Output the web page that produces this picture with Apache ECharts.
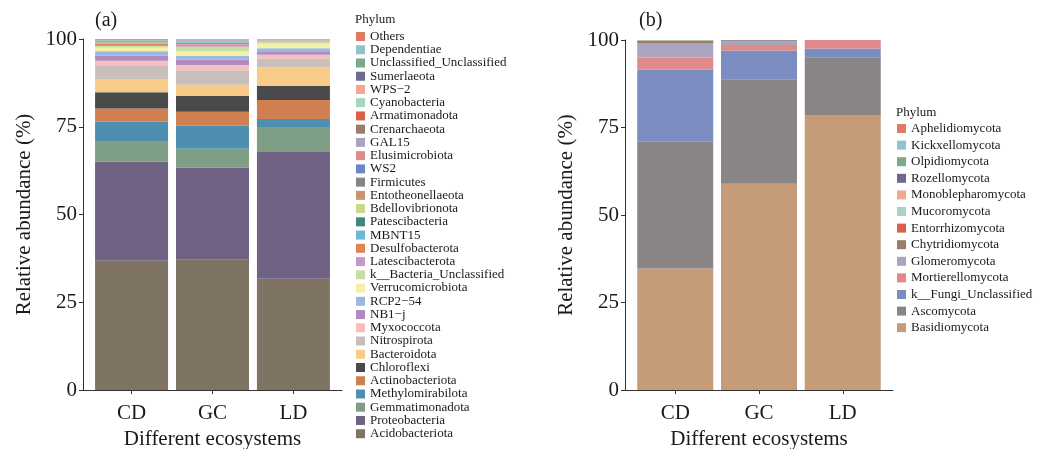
<!DOCTYPE html>
<html>
<head>
<meta charset="utf-8">
<script src="https://cdn.jsdelivr.net/npm/echarts@6/dist/echarts.min.js"></script>
<style>
  html, body { margin: 0; padding: 0; background: #fff; }
  #main { width: 1040px; height: 449px; }
</style>
</head>
<body>
<div id="main"></div>
<script>
// 横坐标 (位置 1,2,3)
var sites = ["CD", "GC", "LD"];
var sitePos = [1, 2, 3];
var yTicks = [0, 25, 50, 75, 100];

// (a) 细菌门 (堆叠从下到上)
var bacNames = [
  "Acidobacteriota", "Proteobacteria", "Gemmatimonadota", "Methylomirabilota",
  "Actinobacteriota", "Chloroflexi", "Bacteroidota", "Nitrospirota",
  "Myxococcota", "NB1\u2212j", "RCP2\u221254", "Verrucomicrobiota",
  "k__Bacteria_Unclassified", "Latescibacterota", "Desulfobacterota", "MBNT15",
  "Patescibacteria", "Bdellovibrionota", "Entotheonellaeota", "Firmicutes",
  "WS2", "Elusimicrobiota", "GAL15", "Crenarchaeota", "Armatimonadota",
  "Cyanobacteria", "WPS\u22122", "Sumerlaeota", "Unclassified_Unclassified",
  "Dependentiae", "Others"
];
var bacColors = [
  "#7f7364", "#6f6283", "#7e9e85", "#4e8fb0",
  "#d08050", "#4a4a4a", "#f9cb88", "#c9bfba",
  "#f8bdbd", "#b08ac0", "#9db8e0", "#f5f0a8",
  "#c5dda5", "#c49ac4", "#e08650", "#6db8d4",
  "#3e8a7a", "#c7d98a", "#c8966e", "#8a8585",
  "#6e86c4", "#e0898a", "#a9a5be", "#9a7c6a", "#d9604a",
  "#a9d5be", "#f0a98f", "#6e6a8f", "#7aaa8a",
  "#8ec4cc", "#e07b63"
];
// 每个门在 CD, GC, LD 的相对丰度 (%)
var bacCD = [36.8, 28.2, 5.7, 5.7, 3.8, 4.6, 3.8, 3.9, 1.3, 1.5, 1.2, 1.1,
  0.4, 0.3, 0.3, 0.1, 0.1, 0.1, 0.1, 0.1, 0.05, 0.1, 0.05, 0.1, 0.05,
  0.05, 0.05, 0.05, 0.15, 0.05, 0.2];
var bacGC = [37.1, 26.3, 5.3, 6.6, 4.0, 4.5, 3.2, 4.1, 1.5, 1.5, 1.1, 1.3,
  1.3, 0.6, 0.5, 0.4, 0.05, 0.1, 0.05, 0.1, 0.02, 0.03, 0.05, 0.1, 0.02,
  0.02, 0.02, 0.02, 0.05, 0.02, 0.05];
var bacLD = [31.7, 36.1, 7.1, 2.3, 5.4, 4.1, 5.2, 2.5, 1.1, 0.8, 1.1, 1.3,
  0.6, 0.05, 0.1, 0.05, 0.02, 0.05, 0.03, 0.05, 0.02, 0.02, 0.03, 0.08, 0.02,
  0.02, 0.02, 0.02, 0.05, 0.02, 0.05];

// (b) 真菌门 (堆叠从下到上)
var funNames = [
  "Basidiomycota", "Ascomycota", "k__Fungi_Unclassified", "Mortierellomycota",
  "Glomeromycota", "Chytridiomycota", "Entorrhizomycota", "Mucoromycota",
  "Monoblepharomycota", "Rozellomycota", "Olpidiomycota", "Kickxellomycota",
  "Aphelidiomycota"
];
var funColors = [
  "#c69c78", "#8a8585", "#7a8cc0", "#e0898a",
  "#a9a5be", "#9a7c6a", "#d9604a", "#a9d5be",
  "#f0a98f", "#6e6a8f", "#7aaa8a", "#8ec4cc",
  "#e07b63"
];
var funCD = [34.7, 36.4, 20.5, 3.4, 4.0, 0.8, 0.05, 0.05, 0.03, 0.03, 0.02, 0.01, 0.01];
var funGC = [58.9, 29.9, 8.2, 1.6, 1.0, 0.3, 0.02, 0.02, 0.02, 0.01, 0.01, 0.01, 0.01];
var funLD = [78.6, 16.5, 2.5, 2.4, 0, 0, 0, 0, 0, 0, 0, 0, 0];

var serif = "Liberation Serif";
var txt = "#1a1a1a";

// x 轴用数值轴, 和 ggplot 一样两端留 0.6 的空白
function xAx(idx) {
  return {
    type: "value", gridIndex: idx, min: 0.4, max: 3.6,
    splitLine: { show: false },
    axisLine: { show: true, lineStyle: { color: "#333", width: 1 } },
    axisTick: { show: true, customValues: sitePos, length: 4, lineStyle: { color: "#333" } },
    axisLabel: {
      customValues: sitePos, fontFamily: serif, fontSize: 21, color: txt, margin: 13,
      formatter: function (v) { return sites[Math.round(v) - 1]; }
    },
    name: "Different ecosystems", nameLocation: "middle", nameGap: 38,
    nameTextStyle: { fontFamily: serif, fontSize: 21, color: txt }
  };
}
function yAx(idx) {
  return {
    type: "value", gridIndex: idx, min: 0, max: 100, interval: 25,
    axisLine: { show: true, lineStyle: { color: "#333", width: 1 } },
    axisTick: { show: true, length: 4, lineStyle: { color: "#333" } },
    splitLine: { show: false },
    axisLabel: {
      fontFamily: serif, fontSize: 21, color: txt, margin: 6,
      formatter: function (v) { return yTicks.indexOf(v) >= 0 ? String(v) : ""; }
    },
    name: "Relative abundance (%)", nameLocation: "middle", nameGap: 48,
    nameTextStyle: { fontFamily: serif, fontSize: 21, color: txt }
  };
}

// 数据列: [丰度, 位置], 让堆叠落在 y 上
function pairs(a, b, c) {
  return [[a, sitePos[0]], [b, sitePos[1]], [c, sitePos[2]]];
}

var series = [];
bacNames.forEach(function (n, i) {
  series.push({
    name: n, type: "bar", stack: "bac", xAxisIndex: 0, yAxisIndex: 0,
    encode: { x: 1, y: 0 },
    barWidth: 73, itemStyle: { color: bacColors[i] },
    data: pairs(bacCD[i], bacGC[i], bacLD[i])
  });
});
funNames.forEach(function (n, i) {
  series.push({
    name: n, type: "bar", stack: "fun", xAxisIndex: 1, yAxisIndex: 1,
    encode: { x: 1, y: 0 },
    barWidth: 76, itemStyle: { color: funColors[i] },
    data: pairs(funCD[i], funGC[i], funLD[i])
  });
});

var legendText = { fontFamily: serif, fontSize: 13, color: txt, lineHeight: 13 };

var myChart = echarts.init(document.getElementById("main"));
myChart.setOption({
  animation: false,
  title: [
    { text: "(a)", left: 90, top: 6, textStyle: { fontFamily: serif, fontSize: 20, fontWeight: "normal", color: txt } },
    { text: "(b)", left: 634, top: 6, textStyle: { fontFamily: serif, fontSize: 20, fontWeight: "normal", color: txt } },
    { text: "Phylum", left: 350, top: 8, textStyle: { fontFamily: serif, fontSize: 13, fontWeight: "normal", color: txt } },
    { text: "Phylum", left: 891, top: 101, textStyle: { fontFamily: serif, fontSize: 13, fontWeight: "normal", color: txt } }
  ],
  grid: [
    { left: 83, top: 39, width: 259, height: 351, outerBoundsMode: "none" },
    { left: 625, top: 40, width: 268, height: 350, outerBoundsMode: "none" }
  ],
  legend: [
    {
      orient: "vertical", left: 356, top: 30, padding: 0,
      icon: "rect", itemWidth: 9, itemHeight: 9, itemGap: 0.24,
      data: bacNames.slice().reverse(), textStyle: legendText
    },
    {
      orient: "vertical", left: 897, top: 122, padding: 0,
      icon: "rect", itemWidth: 9, itemHeight: 9, itemGap: 3.6,
      data: funNames.slice().reverse(), textStyle: legendText
    }
  ],
  xAxis: [xAx(0), xAx(1)],
  yAxis: [yAx(0), yAx(1)],
  series: series
});
</script>
</body>
</html>
